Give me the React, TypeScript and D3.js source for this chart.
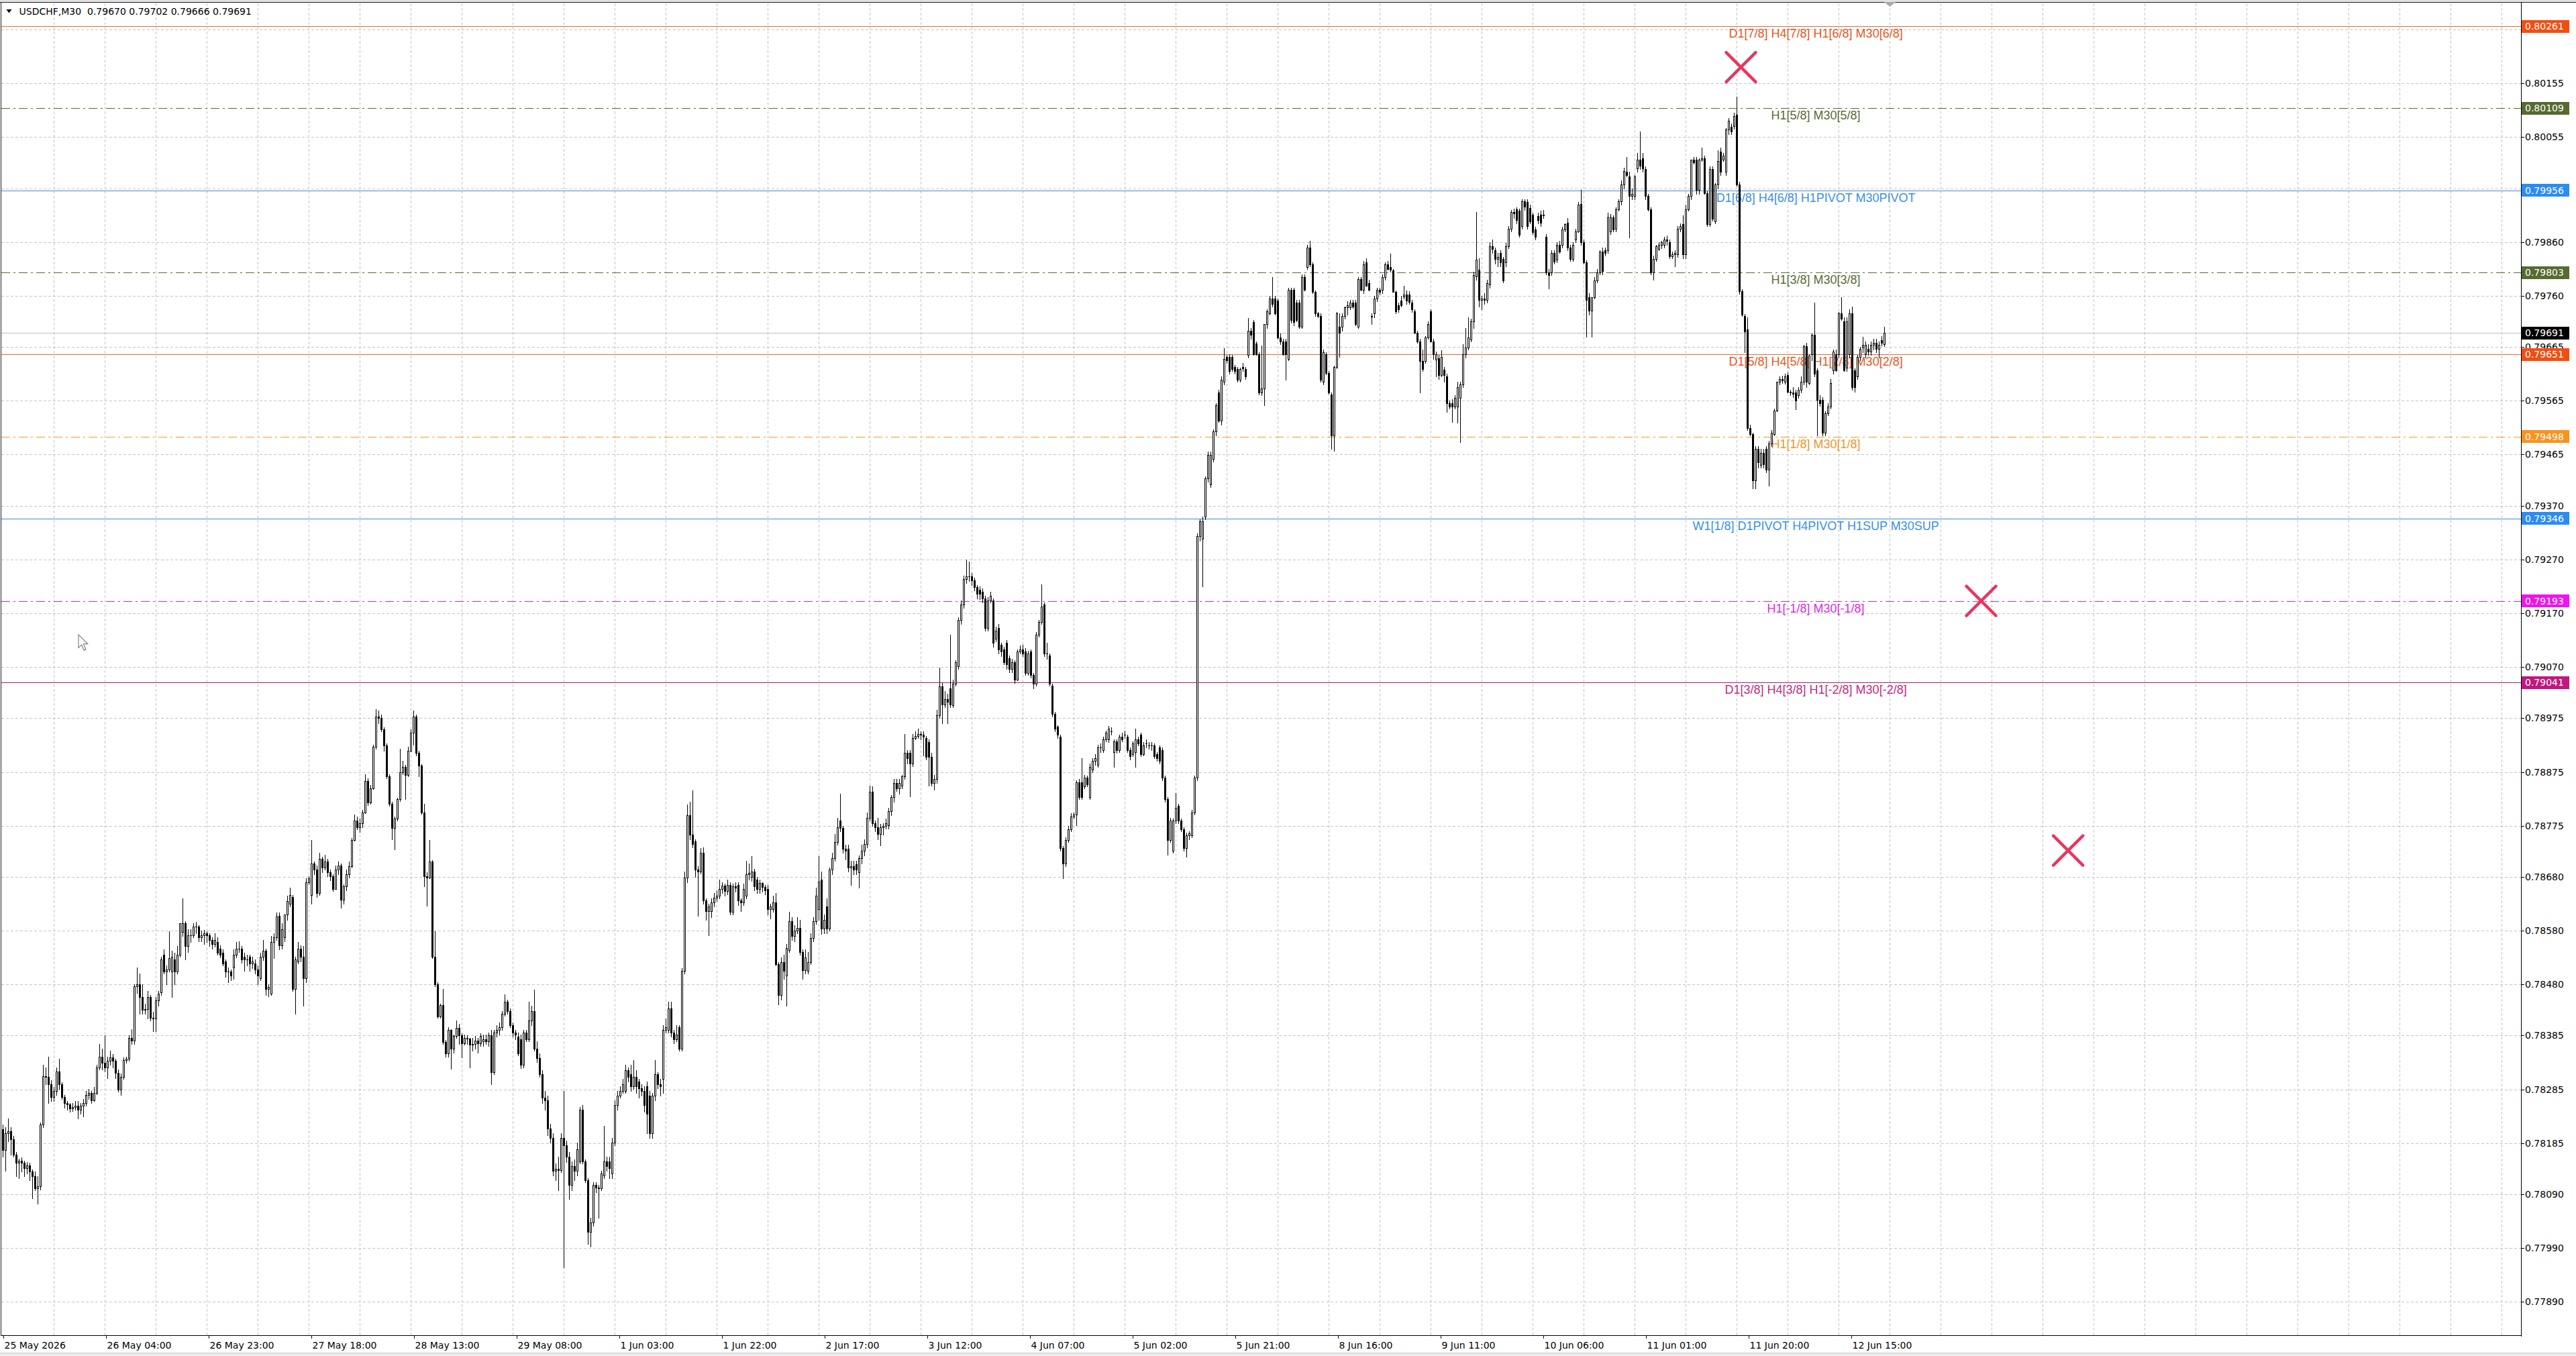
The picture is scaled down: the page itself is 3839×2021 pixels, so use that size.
import React, { useRef, useEffect } from "react";
import * as d3 from "d3";

// chart header
const SYMBOL = "USDCHF,M30";
const HEADER_OHLC = ["0.79670", "0.79702", "0.79666", "0.79691"];

// prices are stored in points (0.00001) above 0.77000
const BASE_PRICE = 0.77;
const POINT = 0.00001;

// M30 candles, [open, high, low, close] in points above BASE_PRICE
const BARS: number[][] = [
  [1211,1219,1160,1172],[1172,1215,1134,1203],[1203,1231,1188,1207],[1207,1215,1164,1192],[1192,1199,1160,1164],[1164,1168,1124,1148],[1148,1156,1120,1152],[1152,1158,1132,1148],[1148,1152,1124,1139],[1139,1150,1128,1144],
  [1144,1148,1116,1132],[1132,1136,1083,1124],[1124,1132,1097,1101],[1101,1124,1073,1105],[1105,1223,1099,1219],[1219,1330,1215,1310],[1310,1326,1294,1308],[1308,1346,1259,1294],[1294,1302,1263,1271],[1271,1290,1263,1282],
  [1282,1326,1275,1318],[1318,1342,1286,1294],[1294,1298,1267,1271],[1271,1275,1251,1259],[1259,1263,1247,1257],[1257,1260,1243,1249],[1249,1259,1244,1252],[1252,1263,1247,1255],[1255,1263,1231,1247],[1247,1260,1239,1255],
  [1255,1267,1235,1259],[1259,1282,1255,1275],[1275,1286,1267,1278],[1278,1282,1259,1265],[1265,1290,1263,1278],[1278,1330,1276,1326],[1326,1369,1322,1346],[1346,1361,1322,1334],[1334,1385,1318,1326],[1326,1346,1306,1338],
  [1338,1357,1330,1344],[1344,1350,1326,1338],[1338,1342,1306,1316],[1316,1322,1281,1284],[1284,1314,1275,1308],[1308,1344,1305,1339],[1339,1346,1334,1342],[1342,1385,1338,1381],[1381,1397,1369,1376],[1376,1480,1369,1476],
  [1476,1512,1464,1480],[1480,1500,1425,1456],[1456,1480,1425,1433],[1433,1444,1425,1434],[1434,1468,1417,1456],[1456,1460,1413,1418],[1418,1429,1393,1417],[1417,1456,1393,1450],[1450,1468,1440,1463],[1465,1531,1460,1527],
  [1535,1545,1500,1504],[1504,1515,1480,1508],[1508,1579,1504,1529],[1504,1543,1456,1531],[1527,1539,1480,1504],[1504,1551,1500,1535],[1535,1594,1531,1594],[1578,1640,1570,1594],[1594,1598,1527,1551],[1551,1583,1540,1571],
  [1571,1583,1559,1571],[1571,1594,1567,1587],[1587,1596,1575,1587],[1587,1590,1560,1567],[1567,1580,1560,1571],[1571,1581,1555,1575],[1575,1579,1559,1571],[1571,1575,1551,1563],[1563,1568,1547,1555],[1555,1575,1550,1563],
  [1559,1568,1535,1539],[1547,1552,1530,1535],[1539,1545,1515,1519],[1523,1527,1494,1504],[1504,1512,1484,1504],[1504,1508,1488,1496],[1511,1545,1490,1535],[1535,1559,1530,1547],[1547,1560,1540,1547],[1547,1551,1520,1527],
  [1531,1539,1505,1527],[1527,1535,1515,1527],[1531,1535,1505,1519],[1519,1531,1510,1523],[1519,1527,1500,1508],[1508,1515,1480,1497],[1492,1539,1488,1531],[1531,1563,1525,1543],[1543,1547,1460,1472],[1472,1480,1458,1475],
  [1463,1570,1460,1559],[1559,1575,1529,1567],[1567,1614,1563,1606],[1608,1614,1545,1553],[1553,1594,1547,1583],[1567,1610,1560,1610],[1610,1645,1600,1635],[1630,1660,1625,1646],[1642,1646,1468,1472],[1472,1531,1425,1527],
  [1523,1559,1519,1547],[1547,1553,1523,1531],[1531,1551,1440,1492],[1492,1677,1484,1670],[1670,1681,1666,1677],[1646,1749,1630,1705],[1705,1709,1685,1693],[1693,1701,1642,1650],[1650,1725,1646,1713],[1713,1717,1689,1697],
  [1697,1721,1693,1709],[1709,1713,1681,1689],[1689,1693,1673,1681],[1681,1685,1654,1658],[1658,1701,1658,1693],[1693,1709,1685,1701],[1701,1705,1622,1638],[1638,1666,1630,1662],[1662,1693,1655,1685],[1685,1709,1679,1700],
  [1700,1752,1697,1749],[1749,1796,1747,1784],[1784,1792,1768,1772],[1772,1788,1763,1779],[1779,1804,1772,1800],[1800,1871,1798,1858],[1858,1863,1813,1818],[1818,1851,1816,1845],[1845,1926,1843,1922],[1922,1992,1918,1978],
  [1978,1989,1966,1976],[1976,1982,1950,1954],[1954,1958,1914,1924],[1924,1928,1863,1867],[1867,1871,1812,1816],[1816,1820,1750,1771],[1771,1792,1731,1788],[1788,1827,1784,1824],[1824,1918,1821,1875],[1875,1895,1871,1884],
  [1884,1888,1824,1869],[1869,1922,1867,1914],[1914,1954,1913,1948],[1948,1989,1926,1978],[1978,1982,1906,1910],[1910,1914,1867,1887],[1887,1889,1797,1800],[1800,1816,1662,1681],[1681,1689,1626,1679],[1679,1749,1677,1709],
  [1709,1711,1529,1531],[1531,1579,1476,1480],[1480,1484,1418,1421],[1421,1444,1418,1442],[1442,1472,1369,1373],[1373,1377,1346,1352],[1352,1401,1346,1395],[1395,1397,1323,1361],[1361,1387,1353,1384],[1384,1413,1381,1399],
  [1399,1407,1369,1385],[1385,1389,1344,1371],[1371,1387,1368,1381],[1381,1385,1369,1379],[1379,1381,1326,1368],[1368,1381,1357,1369],[1369,1384,1361,1376],[1376,1381,1353,1371],[1371,1389,1365,1384],[1374,1387,1365,1378],
  [1378,1387,1369,1374],[1374,1391,1365,1385],[1385,1396,1295,1317],[1317,1396,1313,1391],[1391,1404,1383,1396],[1396,1409,1387,1400],[1400,1431,1396,1426],[1426,1461,1422,1448],[1448,1452,1426,1431],[1431,1435,1400,1404],
  [1404,1409,1383,1391],[1391,1396,1378,1387],[1383,1391,1348,1352],[1378,1387,1325,1330],[1330,1396,1326,1391],[1391,1396,1374,1378],[1378,1448,1374,1413],[1413,1440,1404,1431],[1431,1470,1357,1361],[1361,1374,1335,1343],
  [1343,1352,1308,1313],[1313,1321,1260,1269],[1269,1282,1247,1265],[1265,1273,1200,1212],[1212,1221,1186,1195],[1195,1203,1125,1133],[1133,1147,1116,1137],[1137,1160,1098,1135],[1135,1203,1131,1195],[1195,1282,954,1181],
  [1181,1190,1150,1160],[1160,1168,1081,1107],[1107,1151,1098,1142],[1142,1155,1116,1133],[1133,1186,1125,1173],[1151,1252,1147,1247],[1247,1256,1147,1151],[1151,1155,1112,1116],[1116,1120,998,1020],[1020,1046,993,1037],
  [1037,1112,1031,1107],[1107,1112,1094,1103],[1103,1107,1046,1101],[1101,1133,1098,1129],[1125,1217,1120,1151],[1151,1160,1133,1142],[1151,1160,1120,1138],[1129,1195,1120,1186],[1186,1265,1181,1256],[1256,1282,1247,1273],
  [1273,1291,1269,1282],[1282,1304,1278,1295],[1282,1330,1278,1321],[1321,1326,1300,1308],[1313,1330,1282,1291],[1291,1339,1286,1308],[1308,1321,1278,1291],[1300,1304,1269,1287],[1287,1295,1273,1282],[1282,1291,1243,1256],
  [1291,1300,1203,1240],[1273,1282,1195,1203],[1203,1278,1195,1273],[1273,1339,1265,1313],[1313,1317,1287,1295],[1295,1304,1273,1291],[1304,1404,1278,1396],[1396,1417,1391,1400],[1396,1448,1391,1435],[1435,1448,1383,1391],
  [1391,1396,1370,1378],[1378,1404,1374,1387],[1400,1404,1357,1361],[1361,1510,1357,1505],[1505,1690,1500,1678],[1678,1815,1670,1795],[1795,1820,1750,1758],[1758,1841,1735,1741],[1746,1750,1680,1693],[1693,1700,1607,1690],
  [1690,1733,1686,1725],[1725,1735,1630,1636],[1636,1640,1600,1616],[1616,1630,1571,1625],[1616,1640,1605,1632],[1632,1650,1625,1641],[1641,1655,1635,1645],[1645,1675,1640,1658],[1658,1670,1650,1663],[1663,1667,1645,1654],
  [1654,1675,1648,1665],[1665,1670,1610,1615],[1615,1667,1610,1662],[1662,1670,1652,1660],[1665,1670,1628,1636],[1636,1640,1616,1632],[1632,1667,1628,1658],[1645,1710,1640,1685],[1685,1705,1675,1687],[1680,1719,1672,1690],
  [1690,1695,1655,1662],[1675,1680,1650,1658],[1658,1675,1650,1668],[1668,1670,1652,1661],[1661,1665,1648,1655],[1658,1665,1610,1620],[1620,1630,1602,1625],[1620,1645,1615,1632],[1632,1650,1515,1518],[1518,1522,1443,1460],
  [1460,1530,1452,1522],[1522,1535,1490,1505],[1496,1555,1440,1548],[1544,1615,1540,1597],[1597,1605,1563,1570],[1570,1590,1560,1580],[1580,1605,1575,1585],[1585,1600,1535,1540],[1540,1545,1490,1507],[1507,1545,1500,1530],
  [1505,1540,1500,1522],[1522,1575,1518,1566],[1566,1605,1560,1597],[1597,1660,1592,1645],[1620,1718,1600,1671],[1675,1690,1574,1584],[1584,1610,1575,1600],[1625,1640,1575,1584],[1584,1697,1580,1693],[1693,1725,1685,1715],
  [1715,1760,1710,1745],[1745,1790,1740,1772],[1784,1834,1765,1771],[1771,1775,1725,1732],[1732,1740,1712,1728],[1732,1740,1690,1697],[1697,1710,1665,1700],[1700,1710,1685,1693],[1703,1710,1685,1693],[1688,1720,1660,1715],
  [1715,1740,1705,1728],[1728,1750,1720,1741],[1741,1800,1735,1790],[1790,1850,1785,1838],[1838,1848,1775,1780],[1780,1785,1765,1772],[1772,1790,1750,1760],[1760,1778,1738,1772],[1772,1780,1758,1775],[1775,1788,1770,1780],
  [1776,1808,1770,1802],[1802,1832,1795,1828],[1828,1862,1820,1855],[1855,1862,1840,1845],[1845,1862,1835,1855],[1850,1870,1845,1867],[1867,1946,1862,1911],[1911,1915,1890,1900],[1911,1915,1830,1890],[1890,1946,1885,1938],
  [1938,1950,1935,1942],[1942,1955,1938,1946],[1946,1950,1935,1944],[1944,1950,1905,1940],[1938,1942,1898,1903],[1930,1935,1850,1903],[1903,1910,1850,1855],[1855,1870,1842,1862],[1862,1990,1855,1980],[1980,2069,1975,2034],
  [2034,2040,1965,2000],[2000,2025,1995,2010],[2010,2020,1965,2005],[2030,2130,1995,2000],[1999,2047,1995,2039],[2039,2083,2035,2079],[2071,2162,2067,2158],[2158,2194,2150,2186],[2186,2240,2180,2234],[2234,2270,2226,2238],
  [2238,2266,2230,2238],[2238,2245,2222,2231],[2231,2236,2212,2218],[2218,2222,2198,2206],[2214,2220,2196,2206],[2210,2216,2190,2198],[2198,2202,2138,2142],[2142,2200,2138,2194],[2194,2210,2190,2202],[2194,2198,2107,2115],
  [2122,2145,2118,2138],[2142,2150,2095,2103],[2111,2115,2090,2099],[2103,2107,2075,2079],[2115,2120,2067,2075],[2087,2092,2060,2067],[2067,2085,2060,2079],[2079,2083,2040,2047],[2047,2103,2045,2099],[2099,2110,2095,2103],
  [2103,2111,2090,2095],[2099,2105,2055,2059],[2059,2100,2055,2095],[2099,2103,2050,2055],[2055,2059,2030,2039],[2039,2135,2035,2130],[2130,2158,2126,2154],[2154,2224,2150,2182],[2186,2190,2090,2095],[2095,2115,2085,2095],
  [2091,2095,2035,2039],[2035,2039,1978,1983],[1983,1987,1950,1955],[1959,1962,1938,1944],[1940,1944,1729,1733],[1733,1737,1677,1705],[1705,1753,1700,1749],[1749,1775,1745,1769],[1769,1798,1765,1792],[1792,1800,1788,1796],
  [1796,1860,1776,1856],[1856,1862,1824,1828],[1856,1900,1824,1828],[1848,1870,1845,1864],[1864,1868,1848,1852],[1828,1890,1824,1884],[1880,1900,1875,1896],[1896,1908,1888,1900],[1888,1925,1884,1920],[1920,1928,1912,1920],
  [1916,1940,1912,1936],[1936,1952,1932,1948],[1936,1960,1930,1955],[1951,1958,1944,1951],[1912,1936,1884,1932],[1932,1936,1910,1916],[1916,1944,1912,1940],[1940,1948,1932,1936],[1944,1952,1938,1944],[1940,1944,1912,1916],
  [1916,1920,1898,1904],[1908,1932,1904,1928],[1912,1955,1884,1936],[1936,1940,1924,1928],[1944,1948,1904,1908],[1908,1930,1905,1924],[1928,1935,1920,1928],[1924,1930,1918,1924],[1924,1930,1916,1924],[1924,1928,1900,1904],
  [1908,1912,1896,1900],[1920,1924,1890,1896],[1916,1920,1860,1864],[1864,1868,1820,1824],[1824,1828,1721,1749],[1749,1790,1745,1784],[1729,1788,1725,1784],[1784,1836,1780,1808],[1812,1816,1780,1784],[1784,1788,1765,1769],
  [1769,1772,1728,1733],[1733,1762,1717,1757],[1757,1765,1750,1761],[1757,1805,1753,1800],[1800,1868,1796,1864],[1864,2318,1860,2313],[2313,2345,2305,2341],[2309,2349,2220,2341],[2349,2425,2345,2421],[2421,2470,2415,2464],
  [2409,2470,2405,2464],[2457,2512,2452,2508],[2508,2560,2500,2556],[2580,2585,2525,2528],[2528,2610,2520,2604],[2600,2663,2595,2643],[2647,2650,2635,2640],[2647,2652,2615,2620],[2647,2650,2620,2624],[2628,2632,2615,2620],
  [2624,2628,2600,2604],[2604,2626,2600,2624],[2628,2635,2620,2625],[2624,2628,2605,2610],[2650,2719,2645,2695],[2695,2700,2680,2687],[2711,2715,2650,2651],[2671,2675,2650,2651],[2651,2655,2576,2580],[2580,2667,2575,2588],
  [2588,2707,2556,2707],[2707,2735,2700,2731],[2727,2760,2725,2755],[2755,2795,2740,2745],[2755,2760,2725,2727],[2751,2755,2680,2683],[2683,2690,2670,2675],[2675,2680,2650,2651],[2675,2680,2604,2651],[2643,2775,2640,2771],
  [2771,2775,2710,2715],[2771,2775,2705,2711],[2747,2752,2712,2715],[2747,2752,2700,2703],[2703,2800,2700,2795],[2795,2800,2770,2771],[2814,2855,2810,2850],[2850,2862,2815,2818],[2818,2822,2765,2767],[2767,2770,2723,2727],
  [2727,2730,2720,2723],[2723,2727,2600,2604],[2600,2660,2595,2655],[2651,2655,2614,2616],[2616,2620,2578,2580],[2576,2580,2476,2500],[2500,2630,2472,2628],[2628,2730,2625,2727],[2703,2727,2647,2691],[2703,2728,2695,2723],
  [2723,2740,2718,2739],[2739,2750,2725,2743],[2739,2752,2735,2747],[2747,2752,2738,2740],[2747,2752,2705,2707],[2703,2795,2700,2791],[2791,2795,2770,2771],[2771,2825,2765,2818],[2822,2830,2778,2779],[2783,2790,2770,2771],
  [2723,2727,2707,2721],[2727,2760,2720,2755],[2755,2775,2750,2771],[2771,2775,2763,2767],[2771,2800,2765,2795],[2795,2822,2790,2818],[2818,2825,2808,2810],[2814,2838,2805,2808],[2807,2810,2767,2767],[2767,2770,2727,2731],
  [2743,2748,2730,2735],[2751,2760,2740,2743],[2759,2779,2755,2762],[2763,2770,2745,2751],[2763,2768,2745,2749],[2747,2752,2730,2735],[2731,2735,2690,2691],[2691,2695,2672,2675],[2675,2680,2580,2639],[2639,2660,2620,2624],
  [2639,2685,2635,2683],[2683,2712,2680,2707],[2731,2735,2675,2675],[2675,2680,2643,2651],[2641,2656,2610,2651],[2644,2650,2605,2613],[2613,2659,2610,2646],[2623,2628,2600,2613],[2610,2615,2544,2560],[2560,2565,2550,2554],
  [2560,2568,2526,2554],[2554,2575,2550,2570],[2554,2600,2524,2590],[2570,2600,2488,2595],[2595,2670,2590,2651],[2651,2700,2645,2664],[2664,2720,2660,2682],[2679,2717,2675,2712],[2712,2805,2700,2799],[2796,2916,2790,2827],
  [2809,2830,2740,2753],[2753,2760,2735,2755],[2755,2765,2745,2753],[2753,2790,2748,2783],[2781,2860,2775,2852],[2852,2865,2840,2847],[2845,2850,2820,2829],[2829,2840,2815,2832],[2840,2845,2815,2822],[2829,2832,2785,2789],
  [2822,2858,2815,2852],[2852,2890,2848,2885],[2885,2920,2880,2916],[2916,2922,2905,2913],[2921,2925,2895,2901],[2918,2922,2870,2873],[2890,2940,2885,2936],[2936,2940,2920,2926],[2934,2940,2885,2890],[2923,2930,2895,2898],
  [2911,2915,2875,2878],[2883,2888,2865,2870],[2908,2915,2895,2901],[2911,2918,2890,2896],[2911,2920,2905,2910],[2870,2875,2800,2804],[2804,2810,2773,2799],[2804,2845,2798,2840],[2840,2845,2820,2824],[2827,2860,2822,2855],
  [2855,2862,2840,2842],[2855,2888,2850,2883],[2883,2895,2880,2893],[2896,2905,2845,2850],[2850,2855,2825,2829],[2829,2860,2825,2855],[2865,2885,2860,2880],[2880,2935,2878,2929],[2931,2957,2855,2860],[2860,2865,2820,2822],
  [2822,2826,2684,2753],[2758,2765,2725,2733],[2733,2740,2684,2758],[2758,2795,2755,2789],[2789,2810,2785,2804],[2804,2845,2800,2842],[2842,2850,2800,2806],[2845,2850,2835,2840],[2845,2915,2840,2906],[2880,2912,2875,2906],
  [2906,2910,2880,2883],[2885,2925,2880,2921],[2921,2940,2918,2936],[2936,2975,2930,2967],[2967,2998,2960,2992],[2990,3018,2982,2985],[2982,2990,2868,2946],[2946,2960,2940,2950],[2946,2985,2940,2982],[2997,3025,2990,3013],
  [3013,3066,2995,3002],[3015,3025,2990,2997],[2995,3000,2940,2946],[2946,2950,2918,2921],[2921,2925,2800,2804],[2804,2835,2790,2829],[2829,2855,2825,2852],[2847,2860,2845,2855],[2855,2862,2848,2860],[2855,2870,2850,2865],
  [2865,2872,2855,2862],[2860,2865,2830,2834],[2834,2842,2830,2837],[2837,2845,2815,2840],[2837,2890,2832,2885],[2885,2895,2880,2890],[2893,2910,2830,2837],[2837,2930,2830,2921],[2921,2950,2918,2946],[2946,3013,2940,3013],
  [3013,3018,3005,3008],[3013,3018,2950,2957],[2957,3015,2950,3013],[3013,3035,3010,3015],[3015,3020,2950,2951],[2951,2955,2890,2893],[2893,3000,2890,2995],[2995,3000,2900,2903],[2898,2970,2895,2967],[2967,3030,2960,3010],
  [3028,3035,2985,2990],[3013,3025,3010,3020],[2990,3072,2985,3069],[3069,3090,3060,3086],[3074,3080,3060,3066],[3076,3100,3070,3094],[3097,3130,2965,2967],[2967,2972,2764,2768],[2768,2772,2722,2725],[2722,2726,2655,2694],
  [2697,2720,2510,2514],[2514,2520,2500,2503],[2503,2505,2402,2417],[2417,2480,2402,2475],[2475,2480,2440,2450],[2445,2475,2440,2468],[2468,2475,2440,2447],[2475,2480,2432,2437],[2437,2490,2407,2486],[2486,2510,2480,2506],
  [2503,2550,2500,2547],[2547,2600,2545,2600],[2600,2610,2595,2605],[2605,2612,2598,2603],[2600,2615,2596,2610],[2613,2618,2580,2582],[2582,2585,2575,2580],[2580,2590,2572,2578],[2580,2585,2549,2565],[2575,2590,2570,2585],
  [2585,2610,2580,2600],[2600,2669,2595,2666],[2666,2672,2590,2600],[2598,2652,2595,2649],[2651,2690,2640,2687],[2687,2748,2610,2615],[2621,2625,2501,2567],[2567,2575,2555,2560],[2567,2572,2500,2506],[2506,2545,2500,2542],
  [2542,2560,2538,2554],[2554,2605,2550,2598],[2621,2660,2615,2656],[2651,2660,2620,2621],[2651,2730,2645,2727],[2727,2758,2715,2717],[2712,2720,2620,2621],[2626,2720,2620,2712],[2651,2735,2645,2727],[2727,2740,2585,2590],
  [2621,2625,2582,2590],[2610,2650,2605,2646],[2646,2665,2640,2661],[2664,2684,2655,2669],[2651,2675,2645,2669],[2661,2670,2650,2656],[2656,2675,2650,2669],[2669,2680,2660,2672],[2672,2680,2655,2661],[2661,2675,2645,2669],
  [2677,2685,2668,2672],[2670,2702,2666,2691],
];

// time axis labels, one every ~38.26 bars (placed by pixel spacing, as the terminal does)
const TIME_LABELS = [
  "25 May 2026", "26 May 04:00", "26 May 23:00", "27 May 18:00", "28 May 13:00",
  "29 May 08:00", "1 Jun 03:00", "1 Jun 22:00", "2 Jun 17:00", "3 Jun 12:00",
  "4 Jun 07:00", "5 Jun 02:00", "5 Jun 21:00", "8 Jun 16:00", "9 Jun 11:00",
  "10 Jun 06:00", "11 Jun 01:00", "11 Jun 20:00", "12 Jun 15:00",
];
const TIME_LABEL_STEP = 38.26;
const GRID_STEP = 19;

// price axis ticks
const PRICE_TICKS = [
  0.80255, 0.80155, 0.80055, 0.7996, 0.7986, 0.7976, 0.79665, 0.79565, 0.79465,
  0.7937, 0.7927, 0.7917, 0.7907, 0.78975, 0.78875, 0.78775, 0.7868, 0.7858,
  0.7848, 0.78385, 0.78285, 0.78185, 0.7809, 0.7799, 0.7789,
];

// Murrey-math style levels
const LEVEL_PRICES = [0.80261, 0.80109, 0.79956, 0.79803, 0.79651, 0.79498, 0.79346, 0.79193, 0.79041];
const LEVEL_LABELS = [
  "D1[7/8] H4[7/8] H1[6/8] M30[6/8]",
  "H1[5/8] M30[5/8]",
  "D1[6/8] H4[6/8] H1PIVOT M30PIVOT",
  "H1[3/8] M30[3/8]",
  "D1[5/8] H4[5/8] H1[2/8] M30[2/8]",
  "H1[1/8] M30[1/8]",
  "W1[1/8] D1PIVOT H4PIVOT H1SUP M30SUP",
  "H1[-1/8] M30[-1/8]",
  "D1[3/8] H4[3/8] H1[-2/8] M30[-2/8]",
];
const CURRENT_PRICE = 0.79691;

// cross markers: bar position and price
const CROSS_BARS = [647.5, 737, 769.4];
const CROSS_PRICES = [0.80185, 0.79193, 0.78729];

// ---- styles (kept apart from the data) ----
const LEVEL_STYLES = [
  { line: "#EA6A32", text: "#E8561E", box: "#F24E12", dash: "" },
  { line: "#556B2F", text: "#5A6B36", box: "#556B2F", dash: "13,5,3,5" },
  { line: "#3D8BDB", text: "#3A8EE6", box: "#2B8CF2", dash: "" },
  { line: "#556B2F", text: "#5A6B36", box: "#556B2F", dash: "13,5,3,5" },
  { line: "#EA6A32", text: "#E8561E", box: "#F24E12", dash: "" },
  { line: "#F39A2B", text: "#F2952A", box: "#F7931E", dash: "13,5,3,5" },
  { line: "#3D8BDB", text: "#3A8EE6", box: "#2B8CF2", dash: "" },
  { line: "#E020E0", text: "#E22AE2", box: "#EE14EE", dash: "13,5,3,5" },
  { line: "#A0206E", text: "#C42A80", box: "#C0187E", dash: "" },
];

const W = 3839;
const H = 2021;
const PLOT_RIGHT = 3757;
const PLOT_BOTTOM = 1991;
const LABEL_BAR = 675.4;
const AXIS_FONT = "'DejaVu Sans', Verdana, sans-serif";
const LEVEL_FONT = "'Liberation Sans', Arial, sans-serif";

const App: React.FC = () => {
  const svgRef = useRef<SVGSVGElement | null>(null);

  useEffect(() => {
    if (!svgRef.current) return;
    const svg = d3.select(svgRef.current);
    svg.selectAll("*").remove();

    const x = d3.scaleLinear().domain([0, 938]).range([4.5, 3756.5]);
    const y = d3.scaleLinear().domain([0.77828, 0.803099]).range([1990, 0]);
    const px = (v: number) => BASE_PRICE + v * POINT;
    const crisp = (v: number) => Math.round(v) + 0.5;
    const fmt = d3.format(".5f");

    svg.append("rect").attr("width", W).attr("height", H).attr("fill", "#ffffff");

    // grid
    const grid = svg.append("g").attr("shape-rendering", "crispEdges");
    grid
      .selectAll(".hgrid")
      .data(PRICE_TICKS)
      .enter()
      .append("line")
      .attr("x1", 2)
      .attr("x2", PLOT_RIGHT)
      .attr("y1", (d) => crisp(y(d)))
      .attr("y2", (d) => crisp(y(d)))
      .attr("stroke", "#c4c4c4")
      .attr("stroke-dasharray", "4,3");
    const vgrid = d3.range(1, 50).map((k) => k * GRID_STEP);
    grid
      .selectAll(".vgrid")
      .data(vgrid)
      .enter()
      .append("line")
      .attr("x1", (d) => x(d))
      .attr("x2", (d) => x(d))
      .attr("y1", 5)
      .attr("y2", PLOT_BOTTOM)
      .attr("stroke", "#c4c4c4")
      .attr("stroke-dasharray", "4,3");

    // current price line
    svg
      .append("line")
      .attr("x1", 2)
      .attr("x2", PLOT_RIGHT)
      .attr("y1", crisp(y(CURRENT_PRICE)))
      .attr("y2", crisp(y(CURRENT_PRICE)))
      .attr("stroke", "#c0c0c0")
      .attr("shape-rendering", "crispEdges");

    // level lines
    const levels = LEVEL_PRICES.map((p, i) => ({ p, label: LEVEL_LABELS[i], s: LEVEL_STYLES[i] }));
    svg
      .append("g")
      .attr("shape-rendering", "crispEdges")
      .selectAll("line")
      .data(levels)
      .enter()
      .append("line")
      .attr("x1", 2)
      .attr("x2", PLOT_RIGHT)
      .attr("y1", (d) => crisp(y(d.p)))
      .attr("y2", (d) => crisp(y(d.p)))
      .attr("stroke", (d) => d.s.line)
      .attr("stroke-width", 1)
      .attr("stroke-dasharray", (d) => d.s.dash || null);

    // level labels (under the candles)
    svg
      .append("g")
      .selectAll("text")
      .data(levels)
      .enter()
      .append("text")
      .attr("x", x(LABEL_BAR))
      .attr("y", (d) => y(d.p) + 17)
      .attr("text-anchor", "middle")
      .attr("font-family", LEVEL_FONT)
      .attr("font-size", 18)
      .attr("fill", (d) => d.s.text)
      .text((d) => d.label);

    // candles
    const candles = svg
      .append("g")
      .attr("shape-rendering", "crispEdges")
      .selectAll("g")
      .data(BARS)
      .enter()
      .append("g");
    candles
      .append("line")
      .attr("x1", (_d, i) => x(i))
      .attr("x2", (_d, i) => x(i))
      .attr("y1", (d) => Math.round(y(px(Math.max(d[1], d[0], d[3])))))
      .attr("y2", (d) => Math.round(y(px(Math.min(d[2], d[0], d[3])))) + 1)
      .attr("stroke", "#000");
    candles.each(function (d, i) {
      const g = d3.select(this);
      const [o, , , c] = d;
      const top = Math.round(y(px(Math.max(o, c))));
      const bot = Math.round(y(px(Math.min(o, c))));
      const cx = x(i);
      if (c < o || bot - top < 2) {
        g.append("rect")
          .attr("x", cx - 1.5)
          .attr("y", top)
          .attr("width", 3)
          .attr("height", Math.max(1, bot - top + 1))
          .attr("fill", "#000");
      } else {
        g.append("rect")
          .attr("x", cx - 1)
          .attr("y", top + 0.5)
          .attr("width", 2)
          .attr("height", bot - top)
          .attr("fill", "#fff")
          .attr("stroke", "#000")
          .attr("stroke-width", 1);
      }
    });

    // cross markers
    const crosses = svg
      .append("g")
      .selectAll("g")
      .data(CROSS_BARS.map((b, i) => ({ b, p: CROSS_PRICES[i] })))
      .enter()
      .append("g")
      .attr("transform", (d) => `translate(${x(d.b)},${y(d.p)})`);
    [
      [-22, -22, 22, 22],
      [-22, 22, 22, -22],
    ].forEach(([x1, y1, x2, y2]) => {
      crosses
        .append("line")
        .attr("x1", x1)
        .attr("y1", y1)
        .attr("x2", x2)
        .attr("y2", y2)
        .attr("stroke", "#E8365E")
        .attr("stroke-width", 4.5)
        .attr("stroke-linecap", "round");
    });

    // mouse pointer left on the chart
    svg
      .append("path")
      .attr("d", "M0,0 L0,17 L4,13 L7,20 L9.5,19 L6.5,12 L12,12 Z")
      .attr("transform", "translate(117,946) scale(1.15)")
      .attr("fill", "#ffffff")
      .attr("stroke", "#707070")
      .attr("stroke-width", 0.9);

    // frame
    const frame = svg.append("g").attr("shape-rendering", "crispEdges");
    frame.append("rect").attr("x", 0).attr("y", 0).attr("width", W).attr("height", 3).attr("fill", "#e2e2e2");
    frame.append("line").attr("x1", 0).attr("x2", W).attr("y1", 3.5).attr("y2", 3.5).attr("stroke", "#202020");
    frame.append("line").attr("x1", 1.5).attr("x2", 1.5).attr("y1", 3).attr("y2", PLOT_BOTTOM).attr("stroke", "#202020");
    frame.append("line").attr("x1", PLOT_RIGHT + 0.5).attr("x2", PLOT_RIGHT + 0.5).attr("y1", 3).attr("y2", PLOT_BOTTOM + 1).attr("stroke", "#000");
    frame.append("line").attr("x1", 1).attr("x2", PLOT_RIGHT + 1).attr("y1", PLOT_BOTTOM - 0.5).attr("y2", PLOT_BOTTOM - 0.5).attr("stroke", "#000");
    frame.append("rect").attr("x", 0).attr("y", 2017).attr("width", W).attr("height", 4).attr("fill", "#ececec");
    frame.append("line").attr("x1", 0).attr("x2", W).attr("y1", 2016.5).attr("y2", 2016.5).attr("stroke", "#c8c8c8");

    // shift marker
    svg
      .append("path")
      .attr("d", "M2808,3 L2825,3 L2816.5,10 Z")
      .attr("fill", "#a8a8a8");

    // header
    svg
      .append("path")
      .attr("d", "M9.5,14 L17.5,14 L13.5,19.5 Z")
      .attr("fill", "#000");
    svg
      .append("text")
      .attr("x", 28.5)
      .attr("y", 21.5)
      .attr("font-family", AXIS_FONT)
      .attr("font-size", 14)
      .attr("fill", "#000")
      .attr("xml:space", "preserve")
      .text(`${SYMBOL}  ${HEADER_OHLC.join(" ")}`);

    // price axis
    const yAxis = svg.append("g");
    yAxis
      .selectAll("line")
      .data(PRICE_TICKS)
      .enter()
      .append("line")
      .attr("x1", PLOT_RIGHT)
      .attr("x2", PLOT_RIGHT + 5)
      .attr("y1", (d) => crisp(y(d)))
      .attr("y2", (d) => crisp(y(d)))
      .attr("stroke", "#000")
      .attr("shape-rendering", "crispEdges");
    yAxis
      .selectAll("text")
      .data(PRICE_TICKS)
      .enter()
      .append("text")
      .attr("x", 3763)
      .attr("y", (d) => y(d) + 5)
      .attr("font-family", AXIS_FONT)
      .attr("font-size", 14)
      .attr("fill", "#000")
      .text((d) => fmt(d));

    const boxes = [
      ...levels.map((d) => ({ p: d.p, fill: d.s.box })),
      { p: CURRENT_PRICE, fill: "#000000" },
    ];
    const box = svg.append("g").selectAll("g").data(boxes).enter().append("g");
    box
      .append("rect")
      .attr("x", PLOT_RIGHT + 1)
      .attr("y", (d) => Math.round(y(d.p) - 9.5))
      .attr("width", 71)
      .attr("height", 19)
      .attr("fill", (d) => d.fill)
      .attr("shape-rendering", "crispEdges");
    box
      .append("text")
      .attr("x", 3763)
      .attr("y", (d) => y(d.p) + 5)
      .attr("font-family", AXIS_FONT)
      .attr("font-size", 14)
      .attr("fill", "#fff")
      .text((d) => fmt(d.p));

    // time axis
    const tAxis = svg
      .append("g")
      .selectAll("g")
      .data(TIME_LABELS)
      .enter()
      .append("g")
      .attr("transform", (_d, i) => `translate(${Math.round(x(i * TIME_LABEL_STEP)) + 0.5},0)`);
    tAxis
      .append("line")
      .attr("x1", 0)
      .attr("x2", 0)
      .attr("y1", PLOT_BOTTOM)
      .attr("y2", PLOT_BOTTOM + 4)
      .attr("stroke", "#000")
      .attr("shape-rendering", "crispEdges");
    tAxis
      .append("text")
      .attr("x", 1)
      .attr("y", 2010)
      .attr("font-family", AXIS_FONT)
      .attr("font-size", 14)
      .attr("fill", "#000")
      .text((d) => d);
  }, []);

  return (
    <svg
      ref={svgRef}
      width={W}
      height={H}
      style={{ position: "absolute", left: 0, top: 0, display: "block" }}
    ></svg>
  );
};

export default App;
